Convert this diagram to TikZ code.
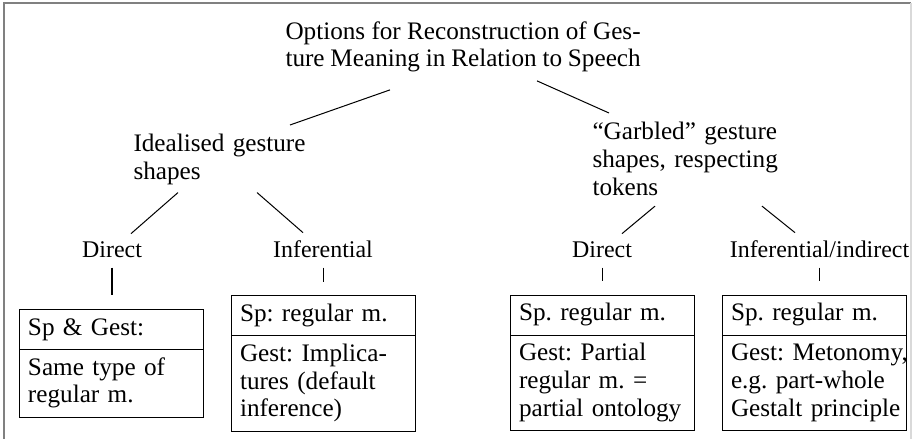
\documentclass[tikz,border=0pt]{standalone}
\usepackage{fontspec}
\setmainfont{Liberation Serif}
\usetikzlibrary{shapes.multipart,calc}
\tikzset{
  optnode/.style = {inner sep=0pt, align=left, anchor=north west},
  waynode/.style = {inner sep=0pt, text depth=0pt, anchor=base,
                    font=\fontsize{9.5}{11}\selectfont},
  meanbox/.style = {draw, rectangle split, rectangle split parts=2,
                    text width=66.3pt, inner xsep=3.2pt, inner ysep=2.25pt,
                    align=left},
  stem/.style    = {shorten <=3.6pt, shorten >=5.4pt}
}
\newcommand{\boxparts}[2]{\strut #1\strut\nodepart{two}\strut #2\strut}

\begin{document}
\begin{tikzpicture}[x=0.397pt, y=-0.397pt,
    font=\fontsize{10}{11}\selectfont\frenchspacing]
  \useasboundingbox (0,0) rectangle (915,439);
  \draw[gray, line width=0.8pt] (4,439) -- (4,3.5) -- (911,3.5);
  \draw[black!15, line width=0.8pt] (911,3.5) -- (911,439);

  \node[optnode, text width=141pt, align=justify] (root) at (285,21)
    {Options for Reconstruction of Ges-\linebreak ture Meaning in Relation to Speech};
  \node[optnode, text width=75pt] (ideal) at (133,134) {Idealised gesture\\shapes};
  \node[optnode, text width=75pt] (garbled) at (592,122)
    {``Garbled'' gesture\\shapes, respecting\\tokens};

  \node[waynode] (ldirect) at (112,258) {Direct};
  \node[waynode] (linfer) at (323,258) {Inferential};
  \node[waynode] (rdirect) at (602,258) {Direct};
  \node[waynode] (rinfer) at (819.5,258) {Inferential/indirect};

  \node[meanbox] (sameb) at (111.5,363.5)
    {\boxparts{Sp \& Gest:}{Same type of\\regular m.}};
  \node[meanbox] (implb) at (323.5,363.5)
    {\boxparts{Sp: regular m.}{Gest: Implica-\\tures (default\\inference)}};
  \node[meanbox] (partb) at (602.5,363)
    {\boxparts{Sp. regular m.}{Gest: Partial\\regular m. =\\\mbox{partial ontology}}};
  \node[meanbox] (metob) at (814.5,363)
    {\boxparts{Sp. regular m.}{\mbox{Gest: Metonomy,}\\e.g. part-whole\\\mbox{Gestalt principle}}};

  \draw ($(root.south west)+(105,17)$) -- ($(ideal.north west)+(157,-9)$);
  \draw ($(root.south west)+(252,8)$) -- ($(garbled.north west)+(17,-9)$);
  \draw ($(ideal.south west)+(45,7)$) -- ($(ldirect.north)+(19,-8)$);
  \draw ($(ideal.south west)+(124,7)$) -- ($(linfer.north)+(-20,-8)$);
  \draw ($(garbled.south west)+(63,10)$) -- ($(rdirect.north)+(20,-8)$);
  \draw ($(garbled.south west)+(170,10)$) -- ($(rinfer.north)+(-24.5,-8)$);

  \draw[stem] (ldirect.south) -- (ldirect.south |- sameb.north);
  \draw[stem] (linfer.south) -- (linfer.south |- implb.north);
  \draw[stem] (rdirect.south) -- (rdirect.south |- partb.north);
  \draw[stem] (rinfer.south) -- (rinfer.south |- metob.north);
\end{tikzpicture}
\end{document}
